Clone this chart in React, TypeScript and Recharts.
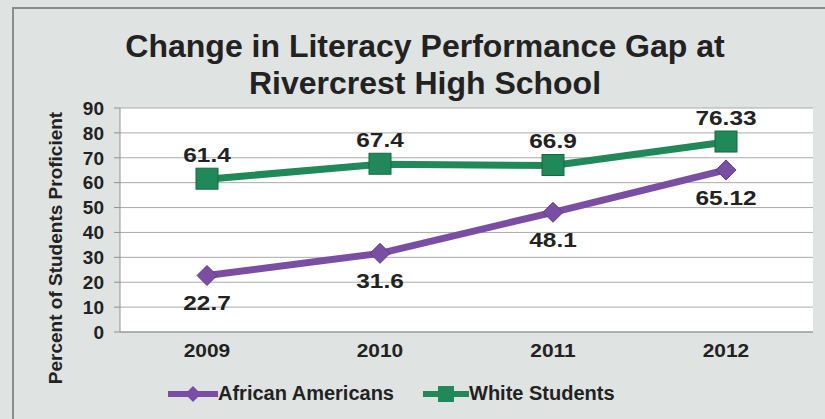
import React from 'react';
import { LineChart, Line, XAxis, YAxis, CartesianGrid, LabelList } from 'recharts';

const years = ['2009', '2010', '2011', '2012'];
const africanAmericans = [22.7, 31.6, 48.1, 65.12];
const whiteStudents = [61.4, 67.4, 66.9, 76.33];
const yTicks = [0, 10, 20, 30, 40, 50, 60, 70, 80, 90];

const GREEN = '#21885a';
const PURPLE = '#7a4fa3';
const TEXT = '#222';
const FONT = '"Liberation Sans", Arial, sans-serif';

const data = years.map((y, i) => ({ year: y, aa: africanAmericans[i], ws: whiteStudents[i] }));

const Diamond = (props: any) => {
  const { cx, cy } = props;
  if (cx == null || cy == null) return null;
  const r = 10;
  return (
    <polygon
      points={`${cx},${cy - r} ${cx + r},${cy} ${cx},${cy + r} ${cx - r},${cy}`}
      fill={PURPLE}
      stroke="#5e3b85"
      strokeWidth={1}
    />
  );
};

const Square = (props: any) => {
  const { cx, cy } = props;
  if (cx == null || cy == null) return null;
  return <rect x={cx - 11} y={cy - 11} width={22} height={21} fill={GREEN} stroke="#17683f" strokeWidth={1} />;
};

const makeLabel = (dy: number) => (props: any) => {
  const { x, y, value } = props;
  return (
    <text
      transform={`translate(${x},${y + dy}) scale(1.22,1)`}
      x={0}
      y={0}
      textAnchor="middle"
      dominantBaseline="central"
      fontFamily={FONT}
      fontWeight="bold"
      fontSize={20}
      fill={TEXT}
    >
      {value}
    </text>
  );
};

const XTick = (props: any) => {
  const { x, y, payload } = props;
  return (
    <text
      transform={`translate(${x},${y + 10}) scale(1.1,1)`}
      x={0}
      y={0}
      textAnchor="middle"
      dominantBaseline="central"
      fontFamily={FONT}
      fontWeight="bold"
      fontSize={19}
      fill={TEXT}
    >
      {payload.value}
    </text>
  );
};

export default function App() {
  return (
    <div style={{ position: 'absolute', left: 0, top: 0, width: 825, height: 419, background: '#dfe3e2', overflow: 'hidden', fontFamily: FONT }}>
      <div style={{ position: 'absolute', left: 12, top: 7, width: 830, height: 430, border: '2px solid #8a8e8e', boxSizing: 'border-box' }} />
      <div style={{ position: 'absolute', left: 0, top: 28, width: 850, textAlign: 'center', fontSize: 32, fontWeight: 'bold', color: TEXT, lineHeight: '37px' }}>
        Change in Literacy Performance Gap at
        <br />
        Rivercrest High School
      </div>
      <div
        style={{
          position: 'absolute',
          left: 56,
          top: 248,
          transform: 'translate(-50%, -50%) rotate(-90deg)',
          whiteSpace: 'nowrap',
          fontSize: 19,
          fontWeight: 'bold',
          color: TEXT,
        }}
      >
        Percent of Students Proficient
      </div>
      <div style={{ position: 'absolute', left: 0, top: 0 }}>
        <LineChart width={825} height={419} data={data} margin={{ top: 108, right: 12, bottom: 57, left: 60 }}>
          <CartesianGrid horizontal vertical={false} stroke="#a9abab" fill="#ffffff" />
          <XAxis
            dataKey="year"
            padding={{ left: 87, right: 87 }}
            height={30}
            tickLine={false}
            axisLine={{ stroke: '#8f9191' }}
            tick={<XTick />}
          />
          <YAxis
            width={60}
            domain={[0, 90]}
            ticks={yTicks}
            interval={0}
            tickSize={6}
            tickMargin={10}
            axisLine={{ stroke: '#8f9191' }}
            tickLine={{ stroke: '#8f9191' }}
            tick={{ fill: TEXT, fontSize: 19, fontWeight: 'bold', fontFamily: FONT }}
          />
          <Line
            dataKey="aa"
            stroke={PURPLE}
            strokeWidth={7}
            dot={<Diamond />}
            activeDot={false}
            isAnimationActive={false}
          >
            <LabelList dataKey="aa" content={makeLabel(28)} />
          </Line>
          <Line
            dataKey="ws"
            stroke={GREEN}
            strokeWidth={7}
            dot={<Square />}
            activeDot={false}
            isAnimationActive={false}
          >
            <LabelList dataKey="ws" content={makeLabel(-24)} />
          </Line>
        </LineChart>
      </div>
      <div style={{ position: 'absolute', left: 0, top: 380, width: 825, height: 28 }}>
        <svg width={825} height={28} style={{ position: 'absolute', left: 0, top: 0 }}>
          <line x1={168} y1={14} x2={218} y2={14} stroke={PURPLE} strokeWidth={6} />
          <polygon points="193,6 201,14 193,22 185,14" fill={PURPLE} />
          <line x1={423} y1={14} x2={469} y2={14} stroke={GREEN} strokeWidth={6} />
          <rect x={438} y={6} width={16} height={16} fill={GREEN} />
        </svg>
        <div style={{ position: 'absolute', left: 218, top: 2, fontSize: 20, fontWeight: 'bold', color: TEXT, whiteSpace: 'nowrap' }}>
          African Americans
        </div>
        <div style={{ position: 'absolute', left: 469, top: 2, fontSize: 20, fontWeight: 'bold', color: TEXT, whiteSpace: 'nowrap' }}>
          White Students
        </div>
      </div>
    </div>
  );
}
